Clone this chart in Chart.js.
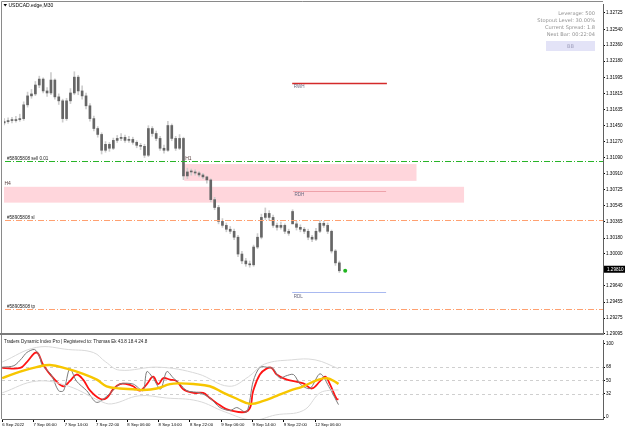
<!DOCTYPE html>
<html><head><meta charset="utf-8">
<script src="https://cdn.jsdelivr.net/npm/chart.js@4.4.0/dist/chart.umd.min.js"></script>
<style>
html,body{margin:0;padding:0;background:#fff;}
#wrap{position:relative;width:625px;height:430px;overflow:hidden;background:#fff;}
#c1{position:absolute;left:0;top:0;}
#c2{position:absolute;left:0;top:337px;}
</style></head><body>
<div id="wrap"><canvas id="c1" width="625" height="337"></canvas><canvas id="c2" width="625" height="93"></canvas></div>
<script>
// ---------- DATA ----------
const symbolTitle = 'USDCAD.edge,M30';
const infoLines = ['Leverage: 500','Stopout Level: 30.00%','Current Spread: 1.8','Next Bar: 00:22:04'];
const infoButton = 'BB';
const subTitle = 'Traders Dynamic Index Pro | Registered to: Thomas Ek 43.8 18.4 24.8';

// hourly-grouped bars (index 0 = 6 Sep 22:00)
const opens  = [1.31480,1.31496,1.31508,1.31508,1.31519,1.31530,1.31686,1.31787,1.31809,1.31910,1.31977,1.31843,1.31820,1.31966,1.31776,1.31731,1.31530,1.31731,1.31820,1.31999,1.31843,1.31787,1.31675,1.31530,1.31418,1.31351,1.31172,1.31239,1.31195,1.31284,1.31306,1.31318,1.31284,1.31295,1.31262,1.31228,1.31217,1.31116,1.31418,1.31362,1.31306,1.31195,1.31172,1.31452,1.31306,1.31195,1.31306,1.30882,1.30927,1.30927,1.30915,1.30893,1.30871,1.30837,1.30614,1.30525,1.30368,1.30323,1.30279,1.30256,1.30189,1.29999,1.29921,1.29888,1.29877,1.30078,1.30189,1.30413,1.30458,1.30413,1.30323,1.30301,1.30323,1.30256,1.30480,1.30340,1.30301,1.30279,1.30256,1.30189,1.30167,1.30256,1.30346,1.30323,1.30256,1.30033,1.29899];
const closes = [1.31496,1.31508,1.31508,1.31519,1.31530,1.31686,1.31787,1.31809,1.31910,1.31977,1.31843,1.31820,1.31966,1.31776,1.31731,1.31530,1.31731,1.31820,1.31999,1.31843,1.31787,1.31675,1.31530,1.31418,1.31351,1.31172,1.31239,1.31195,1.31284,1.31306,1.31318,1.31284,1.31295,1.31262,1.31228,1.31217,1.31116,1.31418,1.31362,1.31306,1.31195,1.31172,1.31452,1.31306,1.31195,1.31306,1.30882,1.30927,1.30927,1.30915,1.30893,1.30871,1.30837,1.30614,1.30525,1.30368,1.30323,1.30279,1.30256,1.30189,1.29999,1.29921,1.29888,1.29877,1.30078,1.30189,1.30413,1.30458,1.30413,1.30323,1.30301,1.30323,1.30256,1.30234,1.30340,1.30301,1.30279,1.30256,1.30189,1.30167,1.30256,1.30346,1.30323,1.30256,1.30033,1.29899,1.29810];
const highs  = [1.31530,1.31540,1.31545,1.31555,1.31580,1.31720,1.31830,1.31860,1.31950,1.32010,1.31990,1.31880,1.32050,1.31980,1.31810,1.31750,1.31760,1.31870,1.32060,1.32020,1.31900,1.31820,1.31700,1.31560,1.31440,1.31370,1.31270,1.31260,1.31310,1.31340,1.31360,1.31345,1.31330,1.31320,1.31280,1.31250,1.31240,1.31450,1.31440,1.31390,1.31330,1.31230,1.31500,1.31470,1.31330,1.31350,1.31320,1.30970,1.30960,1.30950,1.30930,1.30910,1.30880,1.30850,1.30640,1.30550,1.30400,1.30350,1.30310,1.30280,1.30210,1.30030,1.29950,1.29920,1.30100,1.30230,1.30450,1.30520,1.30490,1.30440,1.30350,1.30360,1.30340,1.30280,1.30500,1.30370,1.30330,1.30300,1.30280,1.30210,1.30290,1.30380,1.30370,1.30350,1.30270,1.30050,1.29920];
const lows   = [1.31460,1.31475,1.31480,1.31490,1.31500,1.31510,1.31660,1.31760,1.31790,1.31880,1.31820,1.31780,1.31800,1.31750,1.31690,1.31490,1.31510,1.31700,1.31800,1.31800,1.31750,1.31640,1.31500,1.31390,1.31320,1.31130,1.31150,1.31160,1.31180,1.31260,1.31280,1.31260,1.31260,1.31240,1.31200,1.31180,1.31090,1.31100,1.31330,1.31280,1.31170,1.31140,1.31160,1.31280,1.31170,1.31180,1.30840,1.30850,1.30890,1.30890,1.30870,1.30850,1.30800,1.30590,1.30500,1.30340,1.30300,1.30250,1.30230,1.30160,1.29970,1.29890,1.29860,1.29850,1.29860,1.30060,1.30170,1.30390,1.30380,1.30300,1.30270,1.30280,1.30230,1.30210,1.30340,1.30270,1.30250,1.30230,1.30160,1.30140,1.30150,1.30240,1.30300,1.30230,1.30010,1.29870,1.29790];
const currentPrice = 1.29810;
const currentMarkerIdx = 87.5;

const priceTicks = [1.32725,1.32540,1.32360,1.32180,1.31995,1.31815,1.31635,1.31450,1.31270,1.31090,1.30910,1.30725,1.30545,1.30365,1.30180,1.30000,1.29640,1.29455,1.29275,1.29095];
const timeTickIdx = [0,8,16,24,32,40,48,56,64,72,80];
const timeTickLabels = ['6 Sep 2022','7 Sep 06:00','7 Sep 14:00','7 Sep 22:00','8 Sep 06:00','8 Sep 14:00','8 Sep 22:00','9 Sep 06:00','9 Sep 14:00','9 Sep 22:00','12 Sep 06:00'];

// trade levels (full width dash-dot)
const tradeLevelNames  = ['#58905808 sell 0.01','#58905808 sl','#58905808 tp'];
const tradeLevelPrices = [1.31050,1.30379,1.29374];

// supply zones
const zoneNames = ['H1','H4'];
const zoneFrom  = [46.2,-5];
const zoneTo    = [105.8,118];
const zoneHigh  = [1.31016,1.30759];
const zoneLow   = [1.30826,1.30580];

// range levels (segments)
const rangeNames  = ['RWH','RDH','RDL'];
const rangePrices = [1.31932,1.30714,1.29564];
const rangeFrom   = [73.9,74.1,73.9];
const rangeTo     = [98.2,98.0,98.0];

// TDI subwindow: [barIndex, value]
const rsiLine = [[0,68],[3,70],[5,80],[6.3,88],[8.3,92],[9.6,82],[10.2,71],[12.5,58],[14.4,36],[15.7,36],[17.3,66],[19,49],[21.6,36],[24.2,20],[27.5,32],[30.1,45],[33.5,45],[36,36],[37,62],[38.6,53],[40.5,38],[42.1,62],[43.8,53],[45.5,45],[47.2,36],[50.6,33],[53.1,26],[55.7,13],[58.3,9],[60,13],[62.5,7],[64.2,49],[65.9,68],[67.6,68],[69.3,66],[71,53],[72.5,56],[74.5,58],[76.2,45],[78.7,39],[81.3,59],[83.8,39],[85.5,22],[86,17]];
const signalLine = [[0,67],[4.6,67],[6.3,75],[8.8,88],[10.5,71],[13.1,53],[15.6,42],[17.3,49],[19,58],[20.7,51],[22.5,36],[25,25],[26.7,26],[28.4,38],[30.1,45],[31.8,45],[33.5,42],[35.2,36],[37,45],[38.6,55],[39.9,45],[41.2,53],[42.9,51],[44.6,49],[46.3,38],[48.9,33],[51.4,33],[53.1,26],[55.7,16],[58.3,9],[62.9,9],[64.2,36],[65.9,58],[67.6,66],[68.9,67],[70.2,58],[72.8,51],[74.5,49],[77,46],[79.2,39],[81.3,49],[82.6,55],[83.8,45],[85.5,25],[86,24]];
const baseLine = [[0,53],[4.6,62],[8.8,68],[12.2,71],[16.5,66],[20.7,59],[24.2,51],[26.7,42],[30.1,39],[33.5,38],[36.1,37],[39.5,39],[42.9,45],[45.5,46],[48.9,45],[53.1,42],[56.6,33],[60,25],[63.4,18],[66.8,22],[70.2,29],[73.6,36],[77,42],[80.4,50],[83,53],[85.5,47],[86,45]];
const bandUpper = [[0,75],[8.8,95],[17,92],[23.3,88],[26.5,75],[30,64],[40,68],[50,59],[58,42],[63,55],[67,72],[74,78],[80,78],[86,66]];
const bandLower = [[0,33],[8.8,49],[17,42],[25,22],[28,18],[35,29],[42,26],[50,22],[57,7],[64,-4],[70,3],[77,9],[81,32],[83,36],[86,37]];
const tdiTicks = [0,32,50,68,100];
const tdiLevels = [32,50,68];

// ---------- VIEW ----------
const X_MIN = -0.05, X_MAX = 153.65;
const P_MIN = 1.29106, P_MAX = 1.32826;
const FONT = 'Liberation Sans';
const FONT2 = 'DejaVu Sans';
const TRADE_COLORS = ['rgb(40,180,40)','rgb(255,160,112)','rgb(255,160,112)'];

function toXY(arr){ return arr.map(p => ({x:p[0], y:p[1]})); }

const mainPlugin = {
  id: 'mainDecor',
  beforeDatasetsDraw(chart){
    const {ctx, chartArea:a, scales:{x, y}} = chart;
    ctx.save();
    ctx.beginPath(); ctx.rect(a.left, a.top, a.right-a.left, a.bottom-a.top); ctx.clip();
    // zones
    ctx.fillStyle = '#ffd6dc';
    zoneFrom.forEach((f,i)=>{
      const x0 = x.getPixelForValue(f), x1 = x.getPixelForValue(zoneTo[i]);
      const y0 = y.getPixelForValue(zoneHigh[i]), y1 = y.getPixelForValue(zoneLow[i]);
      ctx.fillRect(x0, y0, x1-x0, y1-y0);
    });
    // range segments
    const rColors = ['#d42a2a','#eea2aa','#a9b9f0'];
    const rWidths = [1.5,1,1];
    rangePrices.forEach((p,i)=>{
      const yy = Math.round(y.getPixelForValue(p)) + 0.5;
      ctx.strokeStyle = rColors[i]; ctx.lineWidth = rWidths[i];
      ctx.beginPath(); ctx.moveTo(x.getPixelForValue(rangeFrom[i]), yy); ctx.lineTo(x.getPixelForValue(rangeTo[i]), yy); ctx.stroke();
    });
    // labels
    ctx.textBaseline = 'alphabetic'; ctx.textAlign = 'left';
    ctx.font = '4.6px "' + FONT + '"';
    ctx.fillStyle = '#202020';
    tradeLevelPrices.forEach((p,i)=>{
      ctx.fillText(tradeLevelNames[i], a.left + 3, y.getPixelForValue(p) - 1.5);
    });
    ctx.font = '5px "' + FONT + '"';
    ctx.fillStyle = '#5a4040';
    ctx.fillText(zoneNames[0], x.getPixelForValue(zoneFrom[0]) + 1, y.getPixelForValue(tradeLevelPrices[0]) - 1);
    ctx.fillText(zoneNames[1], a.left + 0.5, y.getPixelForValue(zoneHigh[1]) - 2);
    ctx.font = '4.6px "' + FONT + '"';
    ctx.fillStyle = '#6a6a80';
    ctx.textBaseline = 'top';
    rangePrices.forEach((p,i)=>{
      ctx.fillText(rangeNames[i], x.getPixelForValue(rangeFrom[i]) + 1.5, y.getPixelForValue(p) + 1.5);
    });
    ctx.restore();
  },
  afterDatasetsDraw(chart){
    const {ctx, chartArea:a, scales:{y}} = chart;
    ctx.save();
    // trade levels, dash-dot, fill-based so colour stays crisp
    tradeLevelPrices.forEach((p,i)=>{
      const yy = Math.round(y.getPixelForValue(p));
      ctx.fillStyle = TRADE_COLORS[i];
      for (let xx = a.left + 1; xx < a.right; xx += 11) {
        ctx.fillRect(xx, yy, Math.min(6, a.right - xx), 1);
        if (xx + 8 < a.right) ctx.fillRect(xx + 8, yy, 1, 1);
      }
    });
    ctx.restore();
  },
  afterDraw(chart){
    const {ctx, chartArea:a, scales:{y}} = chart;
    ctx.save();
    // frame
    ctx.strokeStyle = '#8a8a8a'; ctx.lineWidth = 1;
    ctx.beginPath(); ctx.moveTo(1.5, chart.height); ctx.lineTo(1.5, 1.5); ctx.lineTo(a.right, 1.5); ctx.stroke();
    ctx.fillStyle = '#7a7a7a';
    ctx.fillRect(0, a.bottom, a.right + 1, 2);
    // title
    ctx.fillStyle = '#000';
    ctx.beginPath(); ctx.moveTo(3.5, 4); ctx.lineTo(7, 4); ctx.lineTo(5.25, 6.5); ctx.closePath(); ctx.fill();
    ctx.font = '5px "' + FONT + '"'; ctx.textBaseline = 'middle'; ctx.textAlign = 'left';
    ctx.fillText(symbolTitle, 8.5, 5.5);
    // info
    ctx.font = '5.1px "' + FONT2 + '"'; ctx.textAlign = 'right'; ctx.fillStyle = '#929292';
    infoLines.forEach((s,i)=> ctx.fillText(s, a.right - 8, 13.5 + i*7));
    ctx.fillStyle = '#e3e3f7';
    ctx.fillRect(546, 41, 49, 10);
    ctx.fillStyle = '#a4a4c0'; ctx.textAlign = 'center';
    ctx.fillText(infoButton, 570.5, 46.5);
    // current price box
    const yp = y.getPixelForValue(currentPrice) - 1.5;
    ctx.fillStyle = '#000';
    ctx.fillRect(a.right + 1, yp - 3.5, 21, 7);
    ctx.fillStyle = '#fff'; ctx.textAlign = 'left'; ctx.font = '4.6px "' + FONT + '"';
    ctx.fillText(currentPrice.toFixed(5), a.right + 4, yp);
    ctx.restore();
  }
};

const idx = closes.map((_, i) => i);
new Chart(document.getElementById('c1'), {
  data: {
    datasets: [
      { type:'bar', data: idx.map(i => ({x:i, y:[lows[i], highs[i]]})), backgroundColor:'#cdcdcd', barThickness:1, grouped:false, order:2 },
      { type:'bar', data: idx.map(i => ({x:i, y:[opens[i], closes[i]]})), backgroundColor:'#666666', barThickness:2, minBarLength:1, grouped:false, order:1 },
      { type:'line', data:[{x:currentMarkerIdx, y:currentPrice}], showLine:false, pointRadius:2, pointBackgroundColor:'#21b521', pointBorderWidth:0, order:0 }
    ]
  },
  options: {
    responsive:false, animation:false, events:[],
    layout:{ padding:{left:2, top:2, right:0, bottom:2} },
    plugins:{ legend:{display:false}, tooltip:{enabled:false} },
    scales:{
      x:{ type:'linear', min:X_MIN, max:X_MAX, offset:false, display:false },
      y:{ type:'linear', position:'right', min:P_MIN, max:P_MAX, beginAtZero:false,
          afterBuildTicks: s => { s.ticks = priceTicks.map(v => ({value:v})); },
          afterFit: s => { s.width = 22; },
          ticks:{ autoSkip:false, padding:1, color:'#000', font:{family:FONT, size:4.6}, callback: v => Number(v).toFixed(5) },
          grid:{ drawOnChartArea:false, tickLength:2, color:'#000' },
          border:{ color:'#606060' } }
    }
  },
  plugins:[mainPlugin]
});

const subPlugin = {
  id:'subDecor',
  beforeDatasetsDraw(chart){
    const {ctx, chartArea:a, scales:{y}} = chart;
    ctx.save();
    ctx.strokeStyle = '#cfcfcf'; ctx.lineWidth = 1; ctx.setLineDash([3,3]);
    tdiLevels.forEach(v => {
      const yy = Math.round(y.getPixelForValue(v)) + 0.5;
      ctx.beginPath(); ctx.moveTo(a.left, yy); ctx.lineTo(a.right, yy); ctx.stroke();
    });
    ctx.restore();
  },
  afterDraw(chart){
    const {ctx, chartArea:a} = chart;
    ctx.save();
    ctx.strokeStyle = '#8a8a8a'; ctx.lineWidth = 1;
    ctx.beginPath(); ctx.moveTo(1.5, 0); ctx.lineTo(1.5, a.bottom); ctx.stroke();
    ctx.fillStyle = '#202020'; ctx.font = '4.6px "' + FONT + '"'; ctx.textBaseline = 'middle'; ctx.textAlign = 'left';
    ctx.fillText(subTitle, 4, 5);
    ctx.restore();
  }
};

new Chart(document.getElementById('c2'), {
  type:'line',
  data:{
    datasets:[
      { data: toXY(bandUpper), borderColor:'#d9d9d9', borderWidth:1, pointRadius:0, tension:0.4 },
      { data: toXY(bandLower), borderColor:'#d9d9d9', borderWidth:1, pointRadius:0, tension:0.4 },
      { data: toXY(baseLine), borderColor:'#f7c600', borderWidth:2.4, pointRadius:0, tension:0.4 },
      { data: toXY(rsiLine), borderColor:'#7c7c7c', borderWidth:1, pointRadius:0, tension:0.3 },
      { data: toXY(signalLine), borderColor:'#ff1414', borderWidth:1.8, pointRadius:0, tension:0.4 }
    ]
  },
  options:{
    responsive:false, animation:false, events:[],
    layout:{ padding:{left:2, top:1, right:0, bottom:0} },
    plugins:{ legend:{display:false}, tooltip:{enabled:false} },
    scales:{
      x:{ type:'linear', min:X_MIN, max:X_MAX, offset:false,
          afterBuildTicks: s => { s.ticks = timeTickIdx.map(v => ({value:v})); },
          afterFit: s => { s.height = 11; },
          ticks:{ autoSkip:false, maxRotation:0, align:'start', padding:0.5, color:'#000', font:{family:FONT, size:4.3},
                  callback: (v, i) => timeTickLabels[i] },
          grid:{ drawOnChartArea:false, tickLength:3, color:'#000' },
          border:{ color:'#606060' } },
      y:{ type:'linear', position:'right', min:-2.6, max:104,
          afterBuildTicks: s => { s.ticks = tdiTicks.map(v => ({value:v})); },
          afterFit: s => { s.width = 22; },
          ticks:{ autoSkip:false, padding:1, color:'#000', font:{family:FONT, size:4.6} },
          grid:{ drawOnChartArea:false, tickLength:2, color:'#000' },
          border:{ color:'#606060' } }
    }
  },
  plugins:[subPlugin]
});
</script>
</body></html>
